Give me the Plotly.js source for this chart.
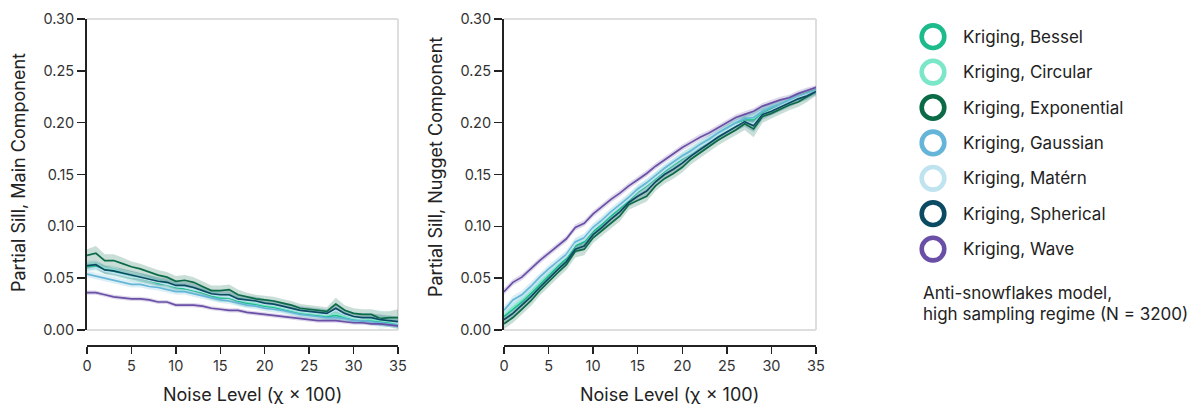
<!DOCTYPE html>
<html>
<head>
<meta charset="utf-8">
<script src="https://cdn.plot.ly/plotly-3.0.1.min.js"></script>
<style>html,body{margin:0;padding:0;background:#fff;}#chart{width:1199px;height:404px;}</style>
</head>
<body>
<div id="chart"></div>
<script>
// ---------- DATA ----------
const noiseLevels = [0,1,2,3,4,5,6,7,8,9,10,11,12,13,14,15,16,17,18,19,20,21,22,23,24,25,26,27,28,29,30,31,32,33,34,35];
const xTicks = [0,5,10,15,20,25,30,35];
const yTicks = [0,0.05,0.10,0.15,0.20,0.25,0.30];

const seriesNames = ["Kriging, Bessel","Kriging, Circular","Kriging, Exponential","Kriging, Gaussian","Kriging, Matérn","Kriging, Spherical","Kriging, Wave"];
const seriesColors = ["#1dbb8c","#7be6c8","#0b6b47","#65b5d8","#bfe3ef","#0b4a63","#6a4fa6"];

// Partial sill, main component (left panel)
const mainBessel      = [.061,.062,.058,.056,.054,.051,.050,.048,.045,.044,.041,.040,.038,.036,.033,.031,.031,.028,.026,.025,.023,.022,.020,.018,.016,.015,.014,.013,.014,.012,.010,.009,.009,.008,.007,.005];
const mainCircular    = [.063,.063,.059,.058,.055,.053,.051,.049,.047,.045,.042,.041,.039,.037,.034,.032,.032,.029,.027,.026,.024,.023,.021,.019,.017,.016,.015,.014,.016,.013,.011,.010,.010,.009,.008,.006];
const mainExponential = [.072,.074,.067,.067,.064,.061,.059,.056,.053,.051,.047,.048,.046,.042,.038,.038,.039,.034,.032,.030,.029,.028,.026,.024,.021,.020,.019,.018,.025,.019,.016,.015,.015,.011,.012,.012];
const mainGaussian    = [.054,.052,.050,.048,.046,.044,.044,.042,.041,.039,.037,.037,.035,.033,.031,.029,.028,.026,.024,.023,.021,.020,.019,.017,.015,.014,.013,.012,.012,.011,.009,.009,.008,.007,.006,.005];
const mainMatern      = [.058,.060,.057,.055,.053,.051,.050,.048,.046,.044,.042,.041,.039,.037,.034,.033,.032,.029,.028,.027,.025,.024,.022,.020,.018,.017,.016,.015,.019,.015,.012,.011,.012,.010,.009,.007];
const mainSpherical   = [.062,.063,.058,.057,.055,.053,.051,.049,.047,.046,.043,.043,.041,.038,.035,.034,.034,.030,.029,.028,.026,.025,.023,.021,.019,.018,.017,.016,.021,.016,.013,.012,.012,.010,.009,.008];
const mainWave        = [.036,.036,.034,.032,.031,.030,.030,.029,.027,.027,.024,.024,.024,.023,.021,.020,.019,.019,.017,.016,.015,.014,.013,.012,.011,.010,.009,.009,.009,.008,.007,.007,.006,.006,.005,.004];

// band half-widths, main component
const mainBesselCI      = [.004,.004,.004,.004,.004,.004,.004,.004,.004,.004,.004,.004,.004,.004,.004,.004,.004,.004,.004,.003,.003,.003,.003,.003,.003,.003,.003,.003,.004,.003,.003,.003,.003,.004,.004,.004];
const mainCircularCI    = [.004,.004,.004,.004,.004,.004,.004,.004,.004,.004,.004,.004,.004,.004,.004,.004,.004,.004,.004,.004,.004,.004,.003,.003,.003,.003,.003,.004,.006,.004,.004,.004,.004,.006,.005,.005];
const mainExponentialCI = [.006,.007,.006,.006,.006,.005,.005,.005,.005,.005,.005,.005,.005,.005,.005,.005,.005,.005,.004,.004,.004,.004,.004,.004,.004,.004,.004,.004,.006,.005,.005,.005,.005,.007,.006,.008];
const mainGaussianCI    = [.003,.003,.003,.003,.003,.003,.003,.003,.003,.003,.003,.003,.003,.003,.003,.003,.003,.003,.003,.003,.003,.003,.003,.003,.003,.003,.003,.003,.003,.003,.003,.003,.003,.003,.003,.003];
const mainMaternCI      = [.005,.005,.005,.005,.005,.005,.005,.005,.005,.006,.005,.005,.005,.005,.005,.005,.005,.005,.005,.006,.006,.005,.005,.005,.005,.005,.005,.006,.010,.006,.006,.006,.007,.010,.006,.007];
const mainSphericalCI   = [.004,.004,.004,.004,.004,.004,.004,.004,.004,.004,.004,.004,.004,.004,.004,.004,.004,.004,.004,.004,.004,.004,.004,.004,.004,.004,.004,.004,.005,.004,.004,.004,.004,.005,.005,.005];
const mainWaveCI        = [.002,.002,.002,.002,.002,.002,.002,.002,.002,.002,.002,.002,.002,.002,.002,.002,.002,.002,.002,.002,.002,.002,.002,.002,.002,.002,.002,.002,.002,.002,.002,.002,.002,.002,.002,.002];

// Partial sill, nugget component (right panel)
const nugBessel      = [.013,.020,.027,.035,.044,.053,.061,.069,.081,.085,.095,.102,.110,.117,.125,.133,.139,.146,.153,.159,.165,.171,.177,.182,.188,.194,.199,.203,.203,.210,.214,.218,.221,.225,.228,.231];
const nugCircular    = [.015,.022,.029,.037,.046,.055,.063,.071,.083,.087,.097,.104,.112,.119,.127,.135,.141,.148,.155,.161,.167,.173,.178,.184,.189,.195,.200,.204,.204,.211,.215,.218,.222,.225,.228,.231];
const nugExponential = [.006,.012,.020,.028,.038,.047,.055,.063,.076,.078,.089,.096,.103,.110,.121,.125,.129,.139,.146,.151,.157,.165,.171,.177,.183,.188,.193,.199,.194,.206,.209,.213,.217,.220,.225,.230];
const nugGaussian    = [.019,.029,.034,.042,.051,.059,.066,.073,.085,.089,.099,.106,.114,.121,.128,.136,.142,.149,.156,.162,.168,.173,.179,.184,.190,.195,.200,.204,.205,.211,.215,.218,.222,.225,.228,.231];
const nugMatern      = [.016,.025,.031,.039,.048,.056,.064,.071,.083,.087,.097,.104,.112,.119,.126,.134,.140,.147,.154,.160,.166,.171,.177,.182,.188,.193,.198,.201,.199,.208,.212,.216,.220,.224,.227,.230];
const nugSpherical   = [.010,.016,.024,.032,.041,.050,.058,.066,.078,.081,.092,.099,.107,.114,.123,.129,.134,.143,.150,.155,.161,.168,.174,.180,.186,.191,.196,.201,.197,.208,.211,.215,.219,.223,.226,.230];
const nugWave        = [.037,.046,.051,.059,.067,.074,.081,.088,.099,.103,.112,.119,.126,.132,.139,.145,.151,.158,.164,.170,.176,.181,.186,.190,.195,.200,.205,.208,.211,.216,.219,.222,.224,.228,.231,.234];

// band half-widths, nugget component
const nugBesselCI      = [.004,.004,.004,.004,.004,.004,.004,.004,.004,.004,.004,.004,.004,.004,.004,.004,.004,.004,.004,.004,.004,.004,.004,.004,.004,.004,.004,.005,.007,.005,.004,.004,.004,.004,.004,.003];
const nugCircularCI    = [.004,.004,.004,.004,.004,.004,.004,.004,.004,.004,.004,.004,.004,.004,.004,.004,.004,.004,.004,.004,.004,.004,.004,.004,.004,.004,.004,.005,.006,.005,.004,.004,.004,.004,.004,.003];
const nugExponentialCI = [.005,.005,.005,.005,.005,.005,.005,.005,.006,.006,.005,.005,.005,.005,.005,.005,.005,.005,.005,.005,.005,.005,.005,.005,.005,.005,.005,.006,.008,.006,.005,.005,.005,.005,.005,.004];
const nugGaussianCI    = [.004,.004,.004,.004,.004,.004,.004,.004,.004,.004,.004,.004,.004,.004,.004,.004,.004,.004,.004,.004,.004,.004,.004,.004,.004,.004,.004,.004,.005,.004,.004,.004,.004,.004,.004,.003];
const nugMaternCI      = [.005,.005,.005,.005,.005,.005,.005,.005,.006,.006,.005,.005,.005,.005,.005,.005,.005,.005,.005,.005,.005,.005,.005,.005,.005,.005,.006,.008,.011,.008,.006,.005,.005,.005,.006,.004];
const nugSphericalCI   = [.004,.004,.004,.004,.004,.004,.004,.004,.004,.004,.004,.004,.004,.004,.004,.004,.004,.004,.004,.004,.004,.004,.004,.004,.004,.004,.004,.005,.006,.005,.004,.004,.004,.004,.004,.003];
const nugWaveCI        = [.003,.003,.003,.003,.003,.003,.003,.003,.003,.003,.003,.003,.003,.003,.003,.003,.003,.003,.003,.003,.003,.003,.003,.003,.003,.003,.003,.003,.003,.003,.003,.003,.003,.003,.003,.002];

const footnoteLines = ["Anti-snowflakes model,", "high sampling regime (N = 3200)"];
const leftYTitle = "Partial Sill, Main Component";
const rightYTitle = "Partial Sill, Nugget Component";
const xTitle = "Noise Level (χ × 100)";

// ---------- BUILD ----------
const mainSeries = [mainBessel, mainCircular, mainExponential, mainGaussian, mainMatern, mainSpherical, mainWave];
const mainCI = [mainBesselCI, mainCircularCI, mainExponentialCI, mainGaussianCI, mainMaternCI, mainSphericalCI, mainWaveCI];
const nugSeries = [nugBessel, nugCircular, nugExponential, nugGaussian, nugMatern, nugSpherical, nugWave];
const nugCI = [nugBesselCI, nugCircularCI, nugExponentialCI, nugGaussianCI, nugMaternCI, nugSphericalCI, nugWaveCI];

function hexToRgba(hex, a) {
  const n = parseInt(hex.slice(1), 16);
  return `rgba(${(n>>16)&255},${(n>>8)&255},${n&255},${a})`;
}

const traces = [];
function addPanel(series, cis, xa, ya) {
  series.forEach((vals, i) => {
    const ci = cis[i];
    traces.push({x: noiseLevels, y: vals.map((v,k)=>v+ci[k]), xaxis: xa, yaxis: ya, mode: 'lines',
      line: {width: 0, color: seriesColors[i]}, showlegend: false, hoverinfo: 'skip'});
    traces.push({x: noiseLevels, y: vals.map((v,k)=>v-ci[k]), xaxis: xa, yaxis: ya, mode: 'lines',
      line: {width: 0, color: seriesColors[i]}, fill: 'tonexty', fillcolor: hexToRgba(seriesColors[i], 0.22),
      showlegend: false, hoverinfo: 'skip'});
  });
  series.forEach((vals, i) => {
    traces.push({x: noiseLevels, y: vals, xaxis: xa, yaxis: ya, mode: 'lines', name: seriesNames[i],
      line: {width: 1.7, color: seriesColors[i]}, showlegend: false});
  });
}
addPanel(mainSeries, mainCI, 'x', 'y');
addPanel(nugSeries, nugCI, 'x2', 'y2');

const FONT = 'Inter, "Noto Sans", sans-serif';
const yDom = [0.0489, 1];
function xAxis(domain) {
  return {domain: domain, range: [0, 35], anchor: 'free', position: 0, tickvals: xTicks,
    ticks: 'outside', ticklen: 7, tickwidth: 1.5, tickcolor: '#222', showline: true, linecolor: '#222', linewidth: 2,
    showgrid: false, zeroline: false, tickfont: {size: 14.5, color: '#333', family: FONT}, fixedrange: true};
}
function yAxis(anchor) {
  return {domain: yDom, range: [0, 0.30], anchor: anchor, tickvals: yTicks, tickformat: '.2f',
    ticks: 'outside', ticklen: 8, tickwidth: 1.5, tickcolor: '#222', showline: true, linecolor: '#222', linewidth: 2,
    showgrid: false, zeroline: false, tickfont: {size: 14.5, color: '#333', family: FONT}, fixedrange: true};
}

const W = 1199, H = 404, mL = 87, mR = 383, mT = 19, mB = 58;
const pw = W - mL - mR, ph = H - mT - mB;
const px = v => (v - mL) / pw;
const py = v => (H - mB - v) / ph;

const shapes = [];
['', '2'].forEach(s => {
  const xr = 'x' + s + ' domain', yr = 'y' + s + ' domain';
  shapes.push({type: 'line', xref: xr, yref: yr, x0: 0, x1: 1, y0: 1, y1: 1, line: {color: '#dedede', width: 2}, layer: 'below'});
  shapes.push({type: 'line', xref: xr, yref: yr, x0: 1, x1: 1, y0: 0, y1: 1, line: {color: '#dedede', width: 2}, layer: 'below'});
  shapes.push({type: 'line', xref: xr, yref: yr, x0: 0, x1: 1, y0: 0, y1: 0, line: {color: '#dedede', width: 2}, layer: 'below'});
});

const annotations = [
  {text: xTitle, xref: 'paper', yref: 'paper', x: px(252), y: py(394), xanchor: 'center', yanchor: 'middle', showarrow: false, font: {size: 18, color: '#222', family: FONT}},
  {text: xTitle, xref: 'paper', yref: 'paper', x: px(669), y: py(394), xanchor: 'center', yanchor: 'middle', showarrow: false, font: {size: 18, color: '#222', family: FONT}},
  {text: leftYTitle, xref: 'paper', yref: 'paper', x: px(18), y: py(173), xanchor: 'center', yanchor: 'middle', textangle: -90, showarrow: false, font: {size: 18, color: '#222', family: FONT}},
  {text: rightYTitle, xref: 'paper', yref: 'paper', x: px(435), y: py(167), xanchor: 'center', yanchor: 'middle', textangle: -90, showarrow: false, font: {size: 18, color: '#222', family: FONT}}
];
footnoteLines.forEach((t, i) => {
  annotations.push({text: t, xref: 'paper', yref: 'paper', x: px(921), y: py(293 + i * 21), xanchor: 'left', yanchor: 'middle',
    showarrow: false, font: {size: 17, color: '#222', family: FONT}});
});

const legendY0 = 36.7, legendStep = 35.4;
seriesNames.forEach((name, i) => {
  const cy = legendY0 + i * legendStep;
  shapes.push({type: 'circle', xref: 'paper', yref: 'paper', xsizemode: 'pixel', ysizemode: 'pixel',
    xanchor: px(933), yanchor: py(cy), x0: -11.3, x1: 11.3, y0: -11.3, y1: 11.3,
    line: {color: seriesColors[i], width: 4.6}, fillcolor: 'rgba(0,0,0,0)'});
  annotations.push({text: name, xref: 'paper', yref: 'paper', x: px(961), y: py(cy), xanchor: 'left', yanchor: 'middle',
    showarrow: false, font: {size: 17, color: '#222', family: FONT}});
});

const layout = {
  width: W, height: H, margin: {l: mL, r: mR, t: mT, b: mB},
  paper_bgcolor: '#fff', plot_bgcolor: '#fff', showlegend: false,
  font: {family: FONT, color: '#222'},
  xaxis: xAxis([0, px(398)]), yaxis: yAxis('x'),
  xaxis2: xAxis([px(504), 1]), yaxis2: yAxis('x2'),
  shapes: shapes, annotations: annotations
};

Plotly.newPlot('chart', traces, layout, {displayModeBar: false, staticPlot: true});
</script>
</body>
</html>
